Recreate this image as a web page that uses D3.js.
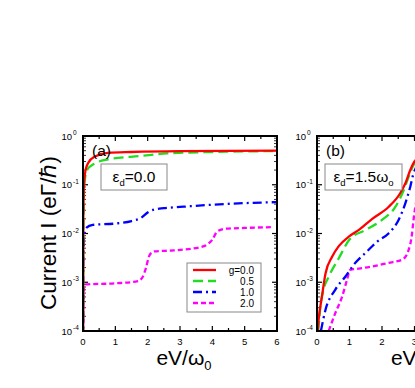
<!DOCTYPE html>
<html>
<head>
<meta charset="utf-8">
<script src="https://cdn.jsdelivr.net/npm/d3@7"></script>
<style>
  body { margin: 0; background: #fff; }
  text { font-family: "Liberation Sans", Arial, sans-serif; fill: #000; }
</style>
</head>
<body>
<script>
// coupling strengths and legend text
var gNames = ["g=0.0", "0.5", "1.0", "2.0"];
var colors = ["#ff0000", "#22dd22", "#0000ff", "#ff00ff"];
var dashes = [null, "10,5", "9,4,2,4", "5,3"];

// panel (a): eps_d = 0.0, points are [eV/w0, current]
var a_g00 = [[0, 0.00001], [0.01, 0.02], [0.03, 0.1], [0.08, 0.2], [0.16, 0.28], [0.37, 0.38], [0.77, 0.45], [1.5, 0.47], [3, 0.49], [6, 0.5]];
var a_g05 = [[0, 0.00001], [0.015, 0.02], [0.04, 0.1], [0.12, 0.2], [0.37, 0.275], [0.77, 0.33], [1.8, 0.39], [2.6, 0.44], [4, 0.47], [6, 0.49]];
var a_g10 = [[0, 0.00001], [0.01, 0.003], [0.03, 0.008], [0.1, 0.013], [0.3, 0.015], [1, 0.016], [1.5, 0.018], [1.8, 0.021], [2.0, 0.027], [2.2, 0.031], [2.5, 0.033], [3, 0.035], [4, 0.039], [5, 0.042], [6, 0.044]];
var a_g20 = [[0, 0.00001], [0.02, 0.0006], [0.05, 0.0009], [1, 0.00095], [1.7, 0.00105], [1.85, 0.0013], [1.95, 0.002], [2.05, 0.0035], [2.2, 0.0043], [2.8, 0.0045], [3.6, 0.0052], [3.85, 0.006], [4.0, 0.0075], [4.15, 0.011], [4.4, 0.0125], [5, 0.013], [5.85, 0.0135]];

// panel (b): eps_d = 1.5 w0
var b_g00 = [[0.02, 0.0001], [0.05, 0.00017], [0.15, 0.0005], [0.26, 0.0015], [0.46, 0.0033], [0.67, 0.0055], [1.0, 0.0088], [1.3, 0.012], [1.7, 0.02], [2.2, 0.035], [2.56, 0.067], [2.72, 0.107], [2.87, 0.2], [3.0, 0.3], [3.3, 0.42], [4, 0.48], [6, 0.5]];
var b_g05 = [[0.04, 0.0001], [0.1, 0.0003], [0.2, 0.0007], [0.36, 0.0013], [0.67, 0.0031], [1.0, 0.0075], [1.49, 0.0118], [2.0, 0.019], [2.41, 0.035], [2.67, 0.078], [2.82, 0.146], [2.97, 0.254], [3.3, 0.4], [4, 0.47], [6, 0.49]];
var b_g10 = [[0.12, 0.0001], [0.26, 0.00027], [0.56, 0.0007], [0.87, 0.0013], [1.18, 0.0025], [1.54, 0.0043], [1.85, 0.0068], [2.2, 0.01], [2.51, 0.019], [2.72, 0.042], [2.87, 0.091], [2.97, 0.17], [3.3, 0.35], [4, 0.45], [6, 0.48]];
var b_g20 = [[0.36, 0.0001], [0.56, 0.00023], [0.77, 0.0005], [0.92, 0.0011], [1.02, 0.0018], [1.28, 0.0019], [1.69, 0.0021], [2.2, 0.0025], [2.62, 0.0029], [2.82, 0.0046], [2.92, 0.0095], [2.97, 0.019], [3.2, 0.1], [4, 0.35], [6, 0.45]];

var xTicks = [0, 1, 2, 3, 4, 5, 6];
var yTicks = [1e-4, 1e-3, 1e-2, 1e-1, 1];
var yExp = ["-4", "-3", "-2", "-1", "0"];

var W = 415, H = 388;
var svg = d3.select("body").append("svg").attr("width", W).attr("height", H);

var plotTop = 136, plotBottom = 331;
var y = d3.scaleLog().domain([1e-4, 1]).range([plotBottom, plotTop]);

function panel(id, left, right, series, tag, epsMain, epsTail, boxX, boxW) {
  var x = d3.scaleLinear().domain([0, 6]).range([left, right]);
  var g = svg.append("g");

  g.append("clipPath").attr("id", "clip" + id)
    .append("rect").attr("x", left).attr("y", plotTop).attr("width", right - left).attr("height", plotBottom - plotTop);

  // minor ticks
  var minorX = d3.range(0.5, 6, 1);
  var minorY = [];
  for (var e = -4; e < 0; e++) {
    for (var m = 2; m < 10; m++) minorY.push(m * Math.pow(10, e));
  }

  var axes = g.append("g").attr("stroke", "#000").attr("stroke-width", 1.2);
  xTicks.forEach(function (t) {
    axes.append("line").attr("x1", x(t)).attr("x2", x(t)).attr("y1", plotBottom).attr("y2", plotBottom - 5);
    axes.append("line").attr("x1", x(t)).attr("x2", x(t)).attr("y1", plotTop).attr("y2", plotTop + 5);
  });
  minorX.forEach(function (t) {
    axes.append("line").attr("x1", x(t)).attr("x2", x(t)).attr("y1", plotBottom).attr("y2", plotBottom - 3);
    axes.append("line").attr("x1", x(t)).attr("x2", x(t)).attr("y1", plotTop).attr("y2", plotTop + 3);
  });
  yTicks.forEach(function (t) {
    axes.append("line").attr("x1", left).attr("x2", left + 5).attr("y1", y(t)).attr("y2", y(t));
    axes.append("line").attr("x1", right).attr("x2", right - 5).attr("y1", y(t)).attr("y2", y(t));
  });
  minorY.forEach(function (t) {
    axes.append("line").attr("x1", left).attr("x2", left + 3).attr("y1", y(t)).attr("y2", y(t)).attr("stroke-width", 0.8);
    axes.append("line").attr("x1", right).attr("x2", right - 3).attr("y1", y(t)).attr("y2", y(t)).attr("stroke-width", 0.8);
  });

  // curves
  var line = d3.line()
    .x(function (d) { return x(d[0]); })
    .y(function (d) { return y(Math.max(d[1], 1e-6)); })
    .curve(d3.curveMonotoneX);
  var curves = g.append("g").attr("clip-path", "url(#clip" + id + ")");
  series.slice().reverse().forEach(function (s, j) {
    var i = series.length - 1 - j;
    curves.append("path").datum(s)
      .attr("d", line)
      .attr("fill", "none")
      .attr("stroke", colors[i])
      .attr("stroke-width", 2.3)
      .attr("stroke-dasharray", dashes[i]);
  });

  // frame
  g.append("rect").attr("x", left).attr("y", plotTop).attr("width", right - left).attr("height", plotBottom - plotTop)
    .attr("fill", "none").attr("stroke", "#000").attr("stroke-width", 2);

  // tick labels
  xTicks.forEach(function (t) {
    g.append("text").attr("x", x(t)).attr("y", plotBottom + 14).attr("text-anchor", "middle")
      .attr("font-size", 9.5).text(t);
  });
  yTicks.forEach(function (t, i) {
    g.append("text").attr("x", left - 11).attr("y", y(t) + 3.5).attr("text-anchor", "end")
      .attr("font-size", 9.5).text("10");
    g.append("text").attr("x", left - 10).attr("y", y(t) - 1).attr("font-size", 6.5).text(yExp[i]);
  });

  g.append("text").attr("x", left + 9).attr("y", plotTop + 20).attr("font-size", 15.5).text(tag);

  // eps box
  g.append("rect").attr("x", boxX).attr("y", 164).attr("width", boxW).attr("height", 26)
    .attr("fill", "#fff").attr("stroke", "#888").attr("stroke-width", 1);
  var et = g.append("text").attr("x", boxX + boxW / 2).attr("y", 182).attr("text-anchor", "middle").attr("font-size", 15.5);
  et.append("tspan").text("\u03b5");
  et.append("tspan").attr("dy", 4).attr("font-size", 9.5).text("d");
  et.append("tspan").attr("dy", -4).text(epsMain);
  if (epsTail) {
    et.append("tspan").text("\u03c9");
    et.append("tspan").attr("dy", 4).attr("font-size", 9.5).text(epsTail);
  }

  // x label
  var xl = g.append("text").attr("x", (left + right) / 2 + 4).attr("y", 365).attr("text-anchor", "middle").attr("font-size", 21);
  xl.append("tspan").text("eV/\u03c9");
  xl.append("tspan").attr("dy", 5).attr("font-size", 13).text("0");

  return x;
}

panel("a", 83, 277, [a_g00, a_g05, a_g10, a_g20], "(a)", "=0.0", null, 101, 66);
panel("b", 317, 512, [b_g00, b_g05, b_g10, b_g20], "(b)", "=1.5", "o", 325, 77);

// y label
svg.append("text")
  .attr("transform", "translate(56,233) rotate(-90)")
  .attr("text-anchor", "middle").attr("font-size", 22.5)
  .text("Current I (e\u0393/\u210f)");

// legend
var leg = svg.append("g");
leg.append("rect").attr("x", 187).attr("y", 263).attr("width", 74).attr("height", 49)
  .attr("fill", "#fff").attr("stroke", "#888").attr("stroke-width", 1);
gNames.forEach(function (n, i) {
  var ly = 270 + i * 11;
  leg.append("line").attr("x1", 193).attr("x2", 216).attr("y1", ly).attr("y2", ly)
    .attr("stroke", colors[i]).attr("stroke-width", 2.3).attr("stroke-dasharray", dashes[i]);
  leg.append("text").attr("x", 254).attr("y", ly + 3.5).attr("text-anchor", "end").attr("font-size", 10).text(n);
});
</script>
</body>
</html>
